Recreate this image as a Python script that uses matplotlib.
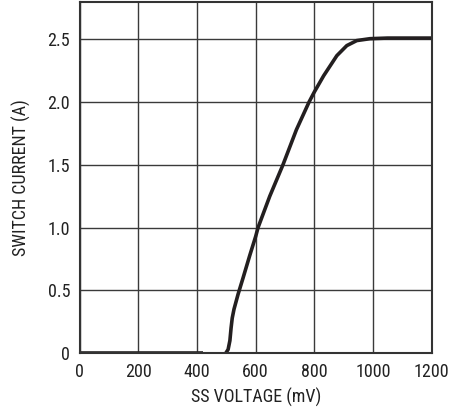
import numpy as np
import matplotlib.pyplot as plt

# switch current vs soft-start voltage
ss_off = [0, 420]
i_off = [0, 0]

ss_mv = [498, 506, 512, 516, 520, 526, 540, 557, 580, 600, 608, 648, 693,
         739, 782, 800, 832, 877, 911, 945, 990, 1050, 1200]
i_sw = [0.0, 0.03, 0.10, 0.20, 0.28, 0.35, 0.47, 0.60, 0.78, 0.93, 1.0, 1.25, 1.5,
        1.78, 2.0, 2.08, 2.21, 2.37, 2.45, 2.49, 2.505, 2.51, 2.51]

xticks = [0, 200, 400, 600, 800, 1000, 1200]
yticks = [0, 0.5, 1.0, 1.5, 2.0, 2.5]
ylabels = ["0", "0.5", "1.0", "1.5", "2.0", "2.5"]

plt.rcParams['font.family'] = ['Roboto Condensed', 'DejaVu Sans']
fontsize = 13
textcolor = "#222222"

fig = plt.figure(figsize=(4.67, 4.15), dpi=100)
ax = fig.add_axes([0.171, 0.149, 0.753, 0.847])

ax.plot(ss_off, i_off, color="#231f20", linewidth=2.6, solid_capstyle="butt")
ax.plot(ss_mv, i_sw, color="#231f20", linewidth=2.6, solid_capstyle="butt",
        solid_joinstyle="round")

ax.set_xlim(0, 1200)
ax.set_ylim(0, 2.8)
ax.set_xticks(xticks)
ax.set_yticks(yticks)
ax.set_yticklabels(ylabels)
ax.grid(True, color="#3a3a3a", linewidth=1.0)
ax.set_axisbelow(True)
ax.tick_params(length=0, pad=7, labelsize=fontsize, colors=textcolor)
for s in ax.spines.values():
    s.set_color("#333333")
    s.set_linewidth(1.5)

ax.set_xlabel("SS VOLTAGE (mV)", fontsize=fontsize, color=textcolor, labelpad=5)
ax.set_ylabel("SWITCH CURRENT (A)", fontsize=fontsize, color=textcolor, labelpad=12)

fig.savefig("out.png", dpi=100)
